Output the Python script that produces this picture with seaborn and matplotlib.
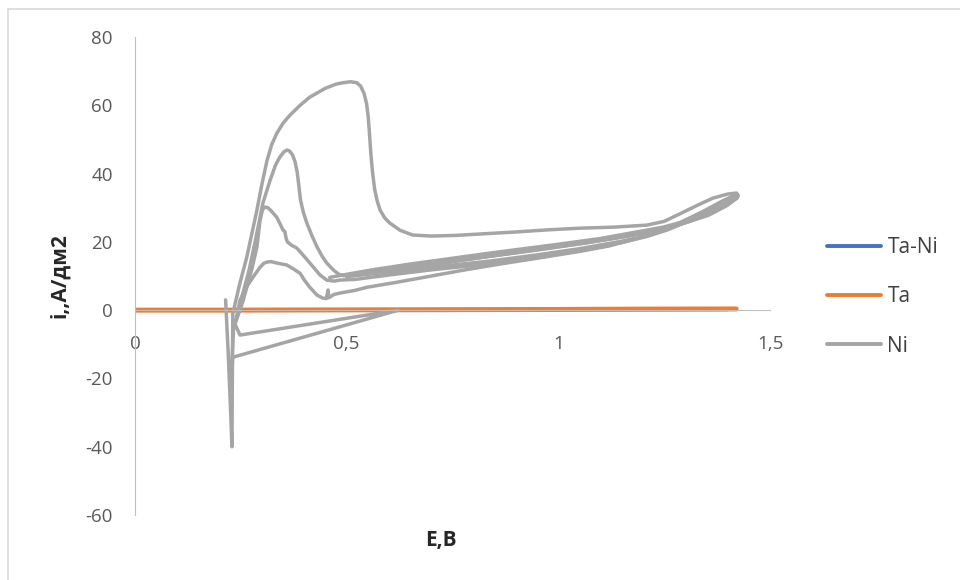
import matplotlib
matplotlib.use("Agg")
import matplotlib.pyplot as plt
from matplotlib.patches import Rectangle
from matplotlib.ticker import FuncFormatter, MultipleLocator
import pandas as pd
import seaborn as sns

# series names / colours (Excel default palette)
series_names = ["Ta-Ni", "Ta", "Ni"]
series_colors = {"Ta-Ni": "#4472C4", "Ta": "#ED7D31", "Ni": "#A5A5A5"}
series_widths = {"Ta-Ni": 2.5, "Ta": 3.6, "Ni": 2.5}

# Ta-Ni lies flat on zero, hidden under Ta
tani_e = [0.0, 0.2, 0.4, 0.6, 0.8, 1.0, 1.2, 1.4]
tani_i = [0.0, 0.0, 0.02, 0.05, 0.08, 0.1, 0.15, 0.2]

# Ta
ta_e = [0.0, 0.2, 0.4, 0.6, 0.8, 1.0, 1.2, 1.42]
ta_i = [0.0, 0.0, 0.05, 0.1, 0.15, 0.2, 0.3, 0.35]

# Ni, cycle 1 (peak ~67)
ni1_e = [0.214, 0.220, 0.226, 0.229, 0.231, 0.248, 0.264, 0.288, 0.300, 0.312, 0.323,
         0.335, 0.350, 0.366, 0.390, 0.413, 0.450, 0.475, 0.491, 0.510, 0.524, 0.533,
         0.541, 0.547, 0.551, 0.554, 0.557, 0.561, 0.566, 0.572, 0.579, 0.590, 0.602,
         0.626, 0.656, 0.700, 0.760, 0.815, 0.900, 0.973, 1.050, 1.129, 1.209, 1.250,
         1.287, 1.330, 1.365, 1.400, 1.421, 1.425, 1.410, 1.388, 1.360, 1.327, 1.290,
         1.247, 1.185, 1.100, 1.000, 0.900, 0.838, 0.750, 0.650, 0.560, 0.491, 0.460]
ni1_i = [3.0, -12, -30, -40, -1, 8, 15.5, 29.3, 37.0, 43.9, 48.5,
         51.8, 54.8, 57.1, 60.0, 62.4, 65.0, 66.2, 66.6, 66.9, 66.6, 65.6,
         63.5, 60.5, 56.5, 51.5, 46.0, 40.5, 35.5, 32.0, 29.3, 27.0, 25.5,
         23.4, 22.0, 21.7, 21.9, 22.3, 22.9, 23.5, 24.0, 24.3, 24.9, 26.0,
         28.2, 30.8, 32.8, 34.0, 34.3, 33.6, 32.4, 31.3, 29.6, 27.4, 25.7,
         24.3, 22.9, 21.0, 19.3, 17.7, 16.7, 15.2, 13.5, 11.8, 10.3, 9.6]

# Ni, cycle 2 (peak ~47)
ni2_e = [0.232, 0.243, 0.255, 0.270, 0.283, 0.302, 0.319, 0.332, 0.342, 0.352, 0.359,
         0.365, 0.372, 0.378, 0.383, 0.387, 0.391, 0.398, 0.406, 0.418, 0.430, 0.442,
         0.453, 0.470, 0.484, 0.510, 0.560, 0.650, 0.750, 0.840, 0.950, 1.050, 1.150,
         1.200, 1.250, 1.300, 1.350, 1.390, 1.418, 1.424, 1.405, 1.370, 1.320, 1.260,
         1.180, 1.080, 0.980, 0.860, 0.760, 0.660, 0.580, 0.520, 0.490]
ni2_i = [-6, -1, 5, 12, 19.6, 31.3, 38, 42.5, 44.8, 46.4, 46.9,
         46.6, 45.5, 43.5, 40.5, 36.5, 32.2, 28.5, 25.5, 21.8, 18.5, 15.8,
         13.8, 11.6, 10.3, 10.0, 10.6, 11.8, 13.2, 14.4, 16.2, 18.0, 20.2,
         21.5, 23.4, 26.0, 29.2, 32.0, 33.8, 33.2, 31.6, 29.0, 26.6, 24.2,
         22.2, 20.2, 18.4, 16.2, 14.5, 12.8, 11.4, 10.5, 10.1]

# Ni, cycle 3 (peak ~30)
ni3_e = [0.233, 0.245, 0.256, 0.264, 0.276, 0.288, 0.295, 0.301, 0.307, 0.314, 0.320,
         0.335, 0.350, 0.354, 0.357, 0.360, 0.370, 0.382, 0.398, 0.413, 0.437, 0.453,
         0.470, 0.484, 0.520, 0.600, 0.700, 0.840, 0.950, 1.050, 1.150, 1.210, 1.260,
         1.310, 1.360, 1.395, 1.419, 1.423, 1.400, 1.360, 1.310, 1.250, 1.170, 1.070,
         0.960, 0.850, 0.740, 0.640, 0.560, 0.500]
ni3_i = [-5, -1, 3, 6.7, 12, 18.5, 26.0, 29.4, 30.2, 30.0, 29.3,
         27.2, 23.4, 23.0, 21.0, 20.0, 19.0, 18.2, 16.0, 13.8, 10.3, 8.8,
         8.5, 8.8, 9.0, 10.3, 11.8, 13.6, 15.4, 17.4, 19.8, 21.6, 23.6,
         26.2, 29.5, 32.0, 33.8, 33.0, 31.0, 28.4, 26.0, 23.8, 21.8, 19.8,
         17.9, 16.0, 14.2, 12.5, 11.2, 10.2]

# Ni, cycle 4 (peak ~14)
ni4_e = [0.233, 0.240, 0.248, 0.262, 0.279, 0.295, 0.304, 0.312, 0.322, 0.335, 0.359,
         0.375, 0.390, 0.400, 0.413, 0.430, 0.444, 0.452, 0.456, 0.458, 0.460, 0.470,
         0.484, 0.520, 0.548, 0.620, 0.700, 0.780, 0.862, 0.950, 1.050, 1.120, 1.185,
         1.240, 1.290, 1.340, 1.385, 1.417, 1.422, 1.398, 1.355, 1.300, 1.240, 1.160,
         1.060, 0.950, 0.840, 0.730, 0.630, 0.550, 0.500]
ni4_i = [-5, -2, 2.9, 6.5, 9.7, 12.5, 13.7, 14.1, 14.2, 13.8, 13.2,
         12.0, 10.8, 8.8, 6.7, 4.4, 3.5, 3.4, 5.9, 3.6, 3.8, 4.6,
         5.0, 5.8, 6.7, 8.2, 10.0, 11.8, 13.5, 15.2, 17.2, 18.8, 21.0,
         23.2, 25.8, 28.8, 31.8, 33.6, 32.8, 30.6, 27.8, 25.6, 23.6, 21.6,
         19.6, 17.6, 15.8, 13.8, 12.2, 10.8, 9.8]

# Ni, stray points near the start of the scans
ni5_e = [0.236, 0.248, 0.622, 0.231, 0.226, 0.233]
ni5_i = [-4, -7.3, 0.0, -13.8, -22, -5]


def frame(name, cycle, e, i):
    return pd.DataFrame({"E": e, "i": i, "series": name, "cycle": cycle})


df = pd.concat([
    frame("Ta-Ni", "a", tani_e, tani_i),
    frame("Ta", "b", ta_e, ta_i),
    frame("Ni", "c1", ni1_e, ni1_i),
    frame("Ni", "c2", ni2_e, ni2_i),
    frame("Ni", "c3", ni3_e, ni3_i),
    frame("Ni", "c4", ni4_e, ni4_i),
    frame("Ni", "c5", ni5_e, ni5_i),
], ignore_index=True)

sns.set_theme(style="white")
plt.rcParams["font.family"] = ["Open Sans", "DejaVu Sans"]
plt.rcParams["axes.unicode_minus"] = False

fig = plt.figure(figsize=(9.6, 5.8), dpi=100, facecolor="white")
ax = fig.add_axes([135 / 960, 65 / 580, 635 / 960, 478 / 580])

sns.lineplot(data=df, x="E", y="i", hue="series", size="series",
             hue_order=series_names, size_order=series_names,
             palette=series_colors, sizes=series_widths,
             units="cycle", estimator=None, sort=False, ax=ax)
for line in ax.lines:
    line.set_solid_joinstyle("round")
    line.set_solid_capstyle("round")

ax.set_xlim(0, 1.5)
ax.set_ylim(-60, 80)
ax.xaxis.set_major_locator(MultipleLocator(0.5))
ax.yaxis.set_major_locator(MultipleLocator(20))
fmt = FuncFormatter(lambda v, p: f"{v:g}".replace(".", ","))
ax.xaxis.set_major_formatter(fmt)
ax.yaxis.set_major_formatter(fmt)

# axes like Excel: vertical axis at x=0, horizontal at y=0
for s in ["top", "right"]:
    ax.spines[s].set_visible(False)
ax.spines["bottom"].set_position(("data", 0))
for s in ["left", "bottom"]:
    ax.spines[s].set_color("#BFBFBF")
    ax.spines[s].set_linewidth(0.8)
ax.tick_params(axis="both", length=0, labelsize=13.5, labelcolor="#595959")
ax.tick_params(axis="x", pad=18)
ax.tick_params(axis="y", pad=16)

ax.set_xlabel("E,В", fontsize=15, fontweight="bold", color="#262626")
ax.set_ylabel("i,,А/дм2", fontsize=15, fontweight="bold", color="#262626")
ax.xaxis.set_label_coords(0.482, -0.032)
ax.yaxis.set_label_coords(-0.102, 0.5)

handles, labels = ax.get_legend_handles_labels()
keep = [(h, l) for h, l in zip(handles, labels) if l in series_names]
leg = ax.legend([h for h, l in keep], [l for h, l in keep],
                loc="center left", bbox_to_anchor=(827 / 960, 0.488),
                bbox_transform=fig.transFigure, frameon=False,
                fontsize=15, handlelength=2.6, handletextpad=0.3,
                labelspacing=1.35, borderpad=0, borderaxespad=0)
for line in leg.get_lines():
    line.set_linewidth(2.8)
for t in leg.get_texts():
    t.set_color("#404040")

# chart area border (left and top edges only show in the crop)
fig.add_artist(Rectangle((8 / 960, -0.1), 1.2, 1.1 - 9 / 580, transform=fig.transFigure,
                         fill=False, edgecolor="#D9D9D9", linewidth=1.2))

fig.savefig("out.png", dpi=100)
